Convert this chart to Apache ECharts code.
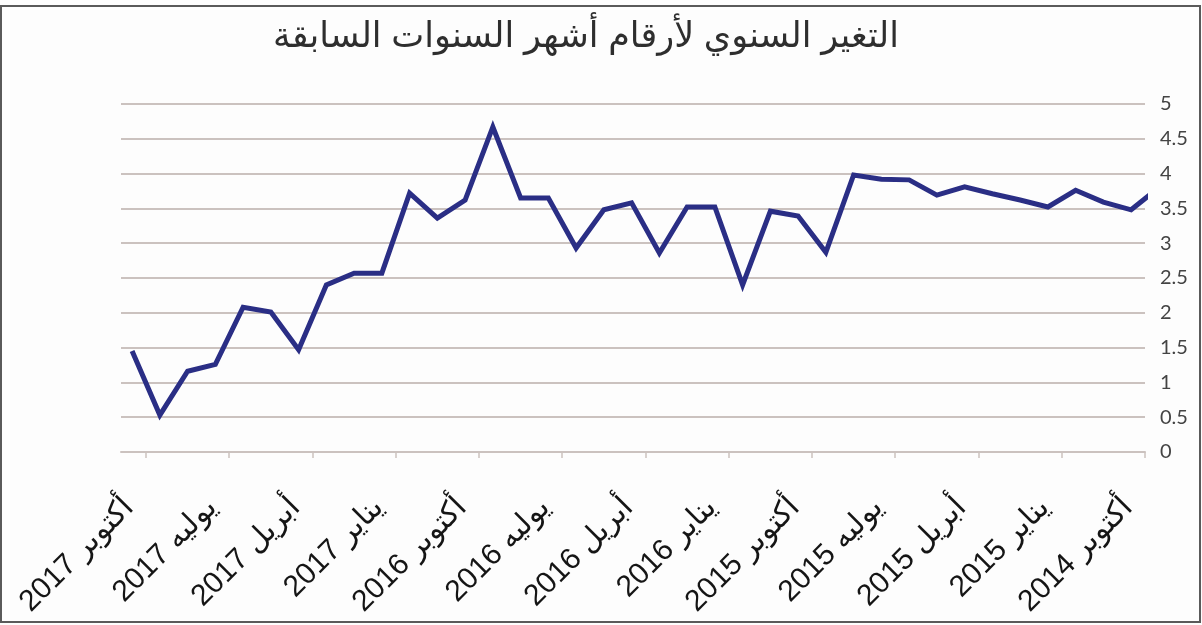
<!DOCTYPE html>
<html>
<head>
<meta charset="utf-8">
<script src="https://cdn.jsdelivr.net/npm/echarts@6/dist/echarts.min.js"></script>
<style>
html,body{margin:0;padding:0;background:#fdfdfd;}
#chart{width:1202px;height:625px;}
</style>
</head>
<body>
<div id="chart"></div>
<script>
// Tick labels, left to right (axis runs from newest on the left to oldest on the right)
var tickLabels = ['أكتوبر 2017', 'يوليه 2017', 'أبريل 2017', 'يناير 2017', 'أكتوبر 2016', 'يوليه 2016', 'أبريل 2016', 'يناير 2016', 'أكتوبر 2015', 'يوليه 2015', 'أبريل 2015', 'يناير 2015', 'أكتوبر 2014'];
// Monthly values, left to right (the last one lies just beyond the plot edge)
var values = [1.45, 0.53, 1.16, 1.26, 2.08, 2.01, 1.47, 2.40, 2.57, 2.57,
              3.72, 3.36, 3.62, 4.67, 3.65, 3.65, 2.93, 3.48, 3.58, 2.86,
              3.52, 3.52, 2.40, 3.46, 3.39, 2.87, 3.98, 3.92, 3.91, 3.69,
              3.81, 3.71, 3.62, 3.52, 3.76, 3.59, 3.48, 3.80];
var titleText = 'التغير السنوي لأرقام أشهر السنوات السابقة';
var yTicks = { min: 0, max: 5, interval: 0.5 };

var tickPositions = tickLabels.map(function (_, k) { return 0.5 + 3 * k; });
var seriesData = values.map(function (v, i) { return [i, v]; });

var chart = echarts.init(document.getElementById('chart'), null, { renderer: 'canvas' });
var gridColor = '#cbc2bf';
chart.setOption({
  backgroundColor: '#fdfdfd',
  animation: false,
  grid: { left: 121, right: 57, top: 104, bottom: 173, containLabel: false },
  graphic: [
    { type: 'rect', shape: { x: 1, y: 6, width: 1199, height: 616 },
      style: { fill: 'none', stroke: '#5a5a5a', lineWidth: 2 } },
    { type: 'text', x: 586, y: 20,
      style: { text: titleText, fill: '#2e2e2e', font: '35px "Liberation Sans", "DejaVu Sans", sans-serif',
               textAlign: 'center', textVerticalAlign: 'top' } }
  ],
  xAxis: {
    type: 'value',
    min: -0.4,
    max: 36.5,
    splitLine: { show: false },
    axisLine: { show: true, lineStyle: { color: gridColor, width: 2 } },
    axisTick: { show: true, length: 6, customValues: tickPositions, lineStyle: { color: gridColor, width: 1.5 } },
    axisLabel: {
      customValues: tickPositions,
      rotate: 45,
      margin: 34,
      padding: [20, 24, 0, 0],
      color: '#151515',
      fontSize: 30,
      fontFamily: '"Liberation Sans", "DejaVu Sans", sans-serif',
      formatter: function (v) {
        var k = Math.round((v - 0.5) / 3);
        return tickLabels[k] || '';
      }
    }
  },
  yAxis: {
    type: 'value',
    position: 'right',
    min: yTicks.min,
    max: yTicks.max,
    interval: yTicks.interval,
    axisLine: { show: false },
    axisTick: { show: false },
    splitLine: { show: true, lineStyle: { color: gridColor, width: 2 } },
    axisLabel: {
      margin: 15,
      color: '#444444',
      fontSize: 20,
      fontFamily: 'Lato, "Open Sans", sans-serif'
    }
  },
  series: [{
    type: 'line',
    data: seriesData,
    clip: true,
    symbol: 'none',
    lineStyle: { color: '#2a2e85', width: 5, join: 'miter' },
    itemStyle: { color: '#2a2e85' }
  }]
});
</script>
</body>
</html>
